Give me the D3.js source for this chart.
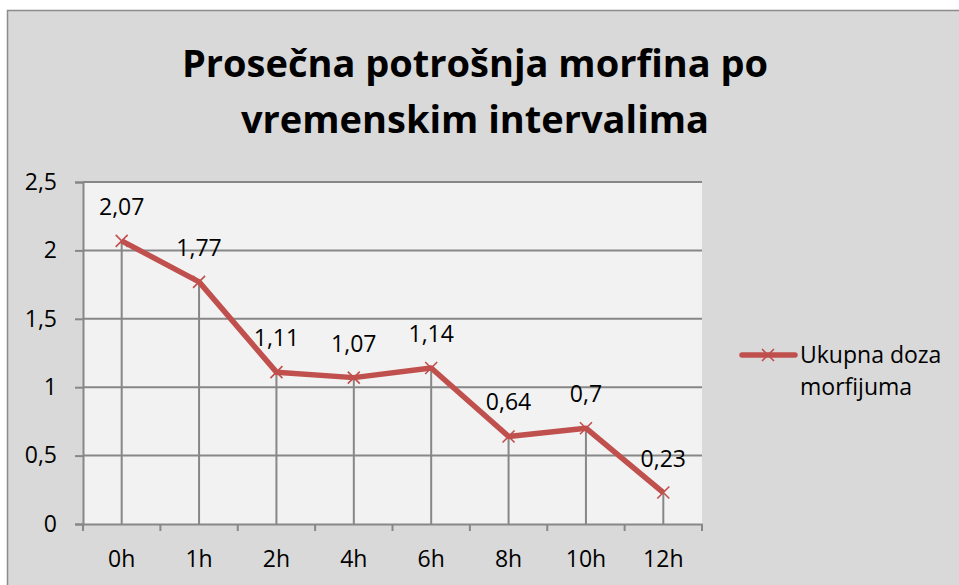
<!DOCTYPE html>
<html>
<head>
<meta charset="utf-8">
<script src="https://cdn.jsdelivr.net/npm/d3@7"></script>
<style>
	body { margin: 0; background: #ffffff; }
	svg { display: block; }
	text { font-family: "Open Sans", sans-serif; fill: #000; }
</style>
</head>
<body>
<svg id="chart" width="959" height="585"></svg>
<script>
// data
var categories = ["0h", "1h", "2h", "4h", "6h", "8h", "10h", "12h"];
var doses = [2.07, 1.77, 1.11, 1.07, 1.14, 0.64, 0.7, 0.23];
var yTicks = [0, 0.5, 1, 1.5, 2, 2.5];
var seriesName = ["Ukupna doza", "morfijuma"];
var titleLines = ["Prosečna potrošnja morfina po", "vremenskim intervalima"];

var red = "#c0504d";
var grid = "#878787";
var labelSize = "23px";
var fmt = function (v) { return String(v).replace(".", ","); };

var svg = d3.select("#chart");

// chart area background + frame
svg.append("rect")
	.attr("x", 7.5).attr("y", 10.5)
	.attr("width", 960).attr("height", 600)
	.attr("fill", "#d9d9d9")
	.attr("stroke", "#8c8c8c")
	.attr("stroke-width", 1.5);

// title
svg.append("g").selectAll("text")
	.data(titleLines)
	.join("text")
	.attr("x", 475)
	.attr("y", function (d, i) { return 77 + i * 56; })
	.attr("text-anchor", "middle")
	.style("font-size", "38px")
	.style("font-weight", "bold")
	.text(function (d) { return d; });

var pLeft = 83, pRight = 702, pTop = 182, pBottom = 524;

var x = d3.scaleBand().domain(categories).range([pLeft, pRight]);
var y = d3.scaleLinear().domain([0, 2.5]).range([pBottom, pTop]);

// plot area
svg.append("rect")
	.attr("x", pLeft).attr("y", pTop)
	.attr("width", pRight - pLeft).attr("height", pBottom - pTop)
	.attr("fill", "#f2f2f2");

// horizontal gridlines
svg.append("g").selectAll("line")
	.data(yTicks.slice(1))
	.join("line")
	.attr("x1", pLeft).attr("x2", pRight)
	.attr("y1", function (d) { return y(d); })
	.attr("y2", function (d) { return y(d); })
	.attr("stroke", grid).attr("stroke-width", 2);

var cx = function (d, i) { return x(categories[i]) + x.bandwidth() / 2; };

// drop lines
svg.append("g").selectAll("line")
	.data(doses)
	.join("line")
	.attr("x1", cx)
	.attr("x2", cx)
	.attr("y1", function (d) { return y(d); })
	.attr("y2", pBottom)
	.attr("stroke", grid).attr("stroke-width", 2);

// y axis
var yAxis = svg.append("g")
	.attr("transform", "translate(" + pLeft + ",0)")
	.call(d3.axisLeft(y).tickValues(yTicks).tickSize(8).tickPadding(18).tickFormat(fmt));
yAxis.select(".domain").attr("stroke", grid).attr("stroke-width", 2);
yAxis.selectAll(".tick line").attr("stroke", grid).attr("stroke-width", 2);
yAxis.selectAll(".tick text").style("font-size", labelSize).style("font-family", "\"Open Sans\", sans-serif").attr("fill", "#000");

// x axis, ticks on category boundaries
var xAxis = svg.append("g")
	.attr("transform", "translate(0," + pBottom + ")")
	.call(d3.axisBottom(x).tickSize(0).tickPadding(27));
xAxis.select(".domain").attr("stroke", grid).attr("stroke-width", 2);
xAxis.selectAll(".tick text").style("font-size", labelSize).style("font-family", "\"Open Sans\", sans-serif").attr("fill", "#000");
xAxis.selectAll(".bound")
	.data(categories.concat(["end"]))
	.join("line")
	.attr("class", "bound")
	.attr("x1", function (d, i) { return pLeft + i * x.bandwidth(); })
	.attr("x2", function (d, i) { return pLeft + i * x.bandwidth(); })
	.attr("y1", 0).attr("y2", 7)
	.attr("stroke", grid).attr("stroke-width", 2);

// series line
svg.append("path")
	.datum(doses)
	.attr("d", d3.line().x(cx).y(function (d) { return y(d); }))
	.attr("fill", "none")
	.attr("stroke", red)
	.attr("stroke-width", 5.5)
	.attr("stroke-linejoin", "round");

// x markers
function cross(sel, s) {
	sel.append("path")
		.attr("d", "M" + (-s) + "," + (-s) + "L" + s + "," + s + "M" + (-s) + "," + s + "L" + s + "," + (-s))
		.attr("stroke", red).attr("stroke-width", 1.6).attr("fill", "none");
}
svg.append("g").selectAll("g")
	.data(doses)
	.join("g")
	.attr("transform", function (d, i) { return "translate(" + cx(d, i) + "," + y(d) + ")"; })
	.call(cross, 6);

// data labels
svg.append("g").selectAll("text")
	.data(doses)
	.join("text")
	.attr("x", cx)
	.attr("y", function (d) { return y(d) - 26; })
	.attr("text-anchor", "middle")
	.style("font-size", labelSize)
	.text(fmt);

// legend
var legend = svg.append("g");
legend.append("line")
	.attr("x1", 742).attr("x2", 795)
	.attr("y1", 355).attr("y2", 355)
	.attr("stroke", red).attr("stroke-width", 5.5).attr("stroke-linecap", "round");
legend.append("g").attr("transform", "translate(768,355)").call(cross, 6);
legend.selectAll("text")
	.data(seriesName)
	.join("text")
	.attr("x", 800)
	.attr("y", function (d, i) { return 363 + i * 32; })
	.style("font-size", labelSize)
	.text(function (d) { return d; });
</script>
</body>
</html>
